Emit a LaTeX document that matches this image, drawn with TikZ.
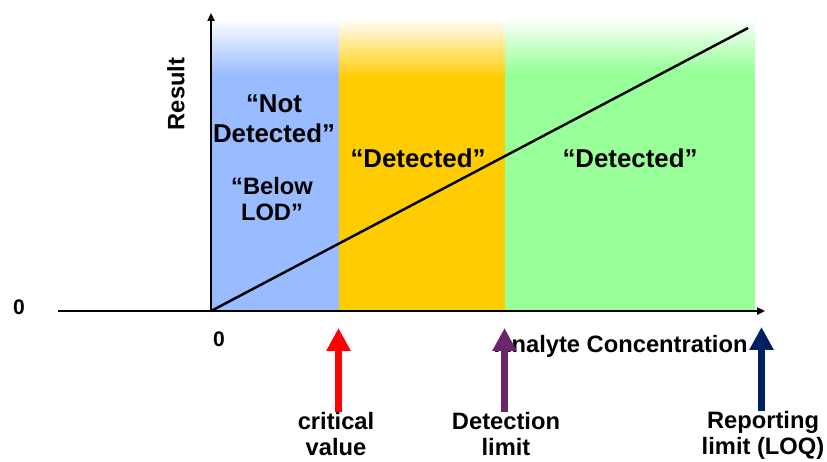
\documentclass[tikz,border=0pt]{standalone}
\usepackage{fontspec}
\setmainfont{Liberation Sans}
\usetikzlibrary{arrows.meta}

\definecolor{bandblue}{RGB}{153,187,255}
\definecolor{bandorange}{RGB}{255,204,0}
\definecolor{bandgreen}{RGB}{153,255,153}
\definecolor{dlpurple}{RGB}{107,38,107}
\definecolor{loqnavy}{RGB}{0,32,96}

\begin{document}
\begin{tikzpicture}[x=0.02cm, y=-0.02cm,
  txt/.style={font=\fontsize{13.5}{15}\selectfont\bfseries, align=center, inner sep=0pt},
  region/.style={txt, font=\fontsize{14.7}{17}\selectfont\bfseries},
  lbl/.style={font=\fontsize{13.5}{14.5}\selectfont\bfseries, align=center, inner sep=0pt, anchor=north},
  axis/.style={line width=1.1pt, -{Triangle[width=4pt,length=4.5pt]}},
  marker/.style={line width=4.1pt, -{Triangle[width=13pt,length=13pt]}}]
\useasboundingbox (0,0) rectangle (827,461);

% Bands
\fill[bandblue] (211,75) rectangle (339,311);
\shade[top color=white, bottom color=bandblue] (211,18) rectangle (339,75.5);
\fill[bandorange] (339,78) rectangle (505,311);
\shade[top color=white, bottom color=bandorange] (339,18) rectangle (505,78.5);
\fill[bandgreen] (505,70) rectangle (755,311);
\shade[top color=white, bottom color=bandgreen] (505,18) rectangle (755,70.5);

% Axes
\coordinate (O) at (211,311);
\draw[axis] (58,311) -- (765,311);
\draw[axis] (O) -- (211,13);
\draw[line width=1.4pt] (O) -- (748,28);

% Axis labels
\node[txt, rotate=90] (result) at (176,94) {Result};
\node[txt, font=\fontsize{12}{14}\selectfont\bfseries] (zeroy) at (19,307) {0};
\node[txt, font=\fontsize{12}{14}\selectfont\bfseries] (zerox) at (219,339) {0};
\node[txt] (conc) at (621,346) {Analyte Concentration};

% Region texts
\node[region] (notdet) at (274,119) {“Not\\Detected”};
\node[txt] (below) at (272,199) {“Below\\LOD”};
\node[region] (det1) at (418,158) {“Detected”};
\node[region] (det2) at (630,158) {“Detected”};

% Limits
\coordinate (cv) at (338.5,328);
\coordinate (dl) at (504.5,328);
\coordinate (loq) at (761.5,327);
\node[lbl] (critlbl) at (336,412) {critical\\value};
\node[lbl] (dllbl) at (506,412) {Detection\\limit};
\node[lbl] (loqlbl) at (763,411) {Reporting\\limit (LOQ)};

\draw[marker, red] (critlbl.north -| cv) -- (cv);
\draw[marker, dlpurple] (dllbl.north -| dl) -- (dl);
\draw[marker, loqnavy] (loqlbl.north -| loq) -- (loq);
\end{tikzpicture}
\end{document}
